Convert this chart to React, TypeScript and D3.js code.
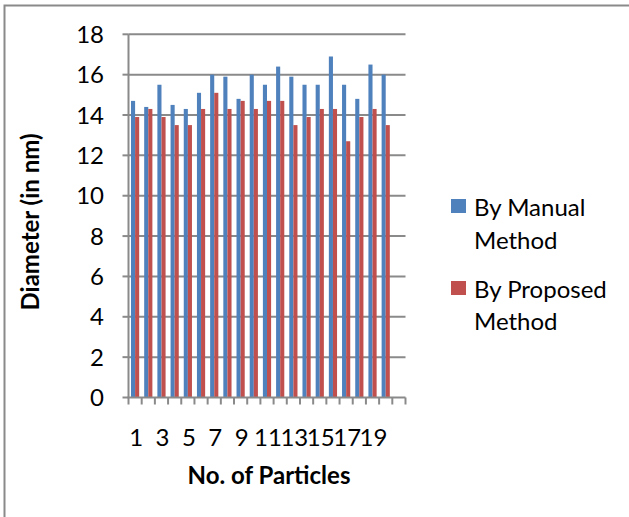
import React from "react";
import * as d3 from "d3";

const categories: string[] = ["1","2","3","4","5","6","7","8","9","10","11","12","13","14","15","16","17","18","19","20",""];
const manualValues: (number | null)[] = [14.7,14.4,15.5,14.5,14.3,15.1,16.0,15.9,14.8,16.0,15.5,16.4,15.9,15.5,15.5,16.9,15.5,14.8,16.5,16.0,null];
const proposedValues: (number | null)[] = [13.9,14.3,13.9,13.5,13.5,14.3,15.1,14.3,14.7,14.3,14.7,14.7,13.5,13.9,14.3,14.3,12.7,13.9,14.3,13.5,null];
const seriesNames: string[] = ["By Manual Method", "By Proposed Method"];
const yTicks: number[] = [0,2,4,6,8,10,12,14,16,18];

const W = 629, H = 517;
const left = 128.5, right = 405.5, top = 34.3, bottom = 397.5;
const BLUE = "#4F81BD", RED = "#C0504D";
const GRID = "#8a8a8a";
const FONT = "Lato, 'Open Sans', sans-serif";
const FS = 24;

export default function App() {
  const x = d3.scaleBand<string>().domain(categories.map((c, i) => String(i))).range([left, right]).paddingInner(0).paddingOuter(0);
  const y = d3.scaleLinear().domain([0, 18]).range([bottom, top]);
  const bw = 4.1;
  const step = x.bandwidth();
  return (
    <svg width={W} height={H} style={{ position: "absolute", left: 0, top: 0 }}>
      <rect x={0} y={0} width={W} height={H} fill="#fff" />
      <rect x={4.5} y={5.5} width={800} height={700} fill="none" stroke="#8a8a8a" strokeWidth={2} />
      {yTicks.filter(t => t > 0).map(t => (
        <line key={"g" + t} x1={left} x2={right} y1={y(t)} y2={y(t)} stroke={GRID} strokeWidth={2} />
      ))}
      {categories.map((c, i) => {
        const cx = (x(String(i)) as number) + step / 2;
        const m = manualValues[i];
        const p = proposedValues[i];
        return (
          <g key={"b" + i}>
            {m != null && <rect x={cx - bw} y={y(m)} width={bw} height={y(0) - y(m)} fill={BLUE} />}
            {p != null && <rect x={cx} y={y(p)} width={bw} height={y(0) - y(p)} fill={RED} />}
          </g>
        );
      })}
      <line x1={left} x2={left} y1={top} y2={bottom} stroke={GRID} strokeWidth={2} />
      <line x1={left - 1} x2={right} y1={bottom} y2={bottom} stroke={GRID} strokeWidth={2} />
      {yTicks.map(t => (
        <g key={"yt" + t}>
          <line x1={left - 6} x2={left} y1={y(t)} y2={y(t)} stroke={GRID} strokeWidth={2} />
          <text x={104} y={y(t)} dy="0.36em" textAnchor="end" fontFamily={FONT} fontSize={FS} fill="#000">{t}</text>
        </g>
      ))}
      {d3.range(categories.length + 1).map(i => {
        const tx = left + i * step;
        return <line key={"xt" + i} x1={tx} x2={tx} y1={bottom} y2={bottom + 7} stroke={GRID} strokeWidth={2} />;
      })}
      {categories.map((c, i) => (i % 2 === 0 && c !== "") ? (
        <text key={"xl" + i} x={(x(String(i)) as number) + step / 2 + 1} y={446} textAnchor="middle" fontFamily={FONT} fontSize={FS} fill="#000">{c}</text>
      ) : null)}
      <text x={269} y={484} textAnchor="middle" fontFamily={FONT} fontSize={FS} fontWeight="bold" fill="#000">No. of Particles</text>
      <text transform={`translate(39,222) rotate(-90)`} textAnchor="middle" fontFamily={FONT} fontSize={FS} fontWeight="bold" fill="#000">Diameter (in nm)</text>
      <rect x={451} y={199} width={15} height={14} fill={BLUE} />
      <text x={474} y={216} fontFamily={FONT} fontSize={FS} fill="#000">By Manual</text>
      <text x={474} y={249} fontFamily={FONT} fontSize={FS} fill="#000">Method</text>
      <rect x={451} y={281} width={15} height={14} fill={RED} />
      <text x={474} y={298} fontFamily={FONT} fontSize={FS} fill="#000">By Proposed</text>
      <text x={474} y={330} fontFamily={FONT} fontSize={FS} fill="#000">Method</text>
    </svg>
  );
}
